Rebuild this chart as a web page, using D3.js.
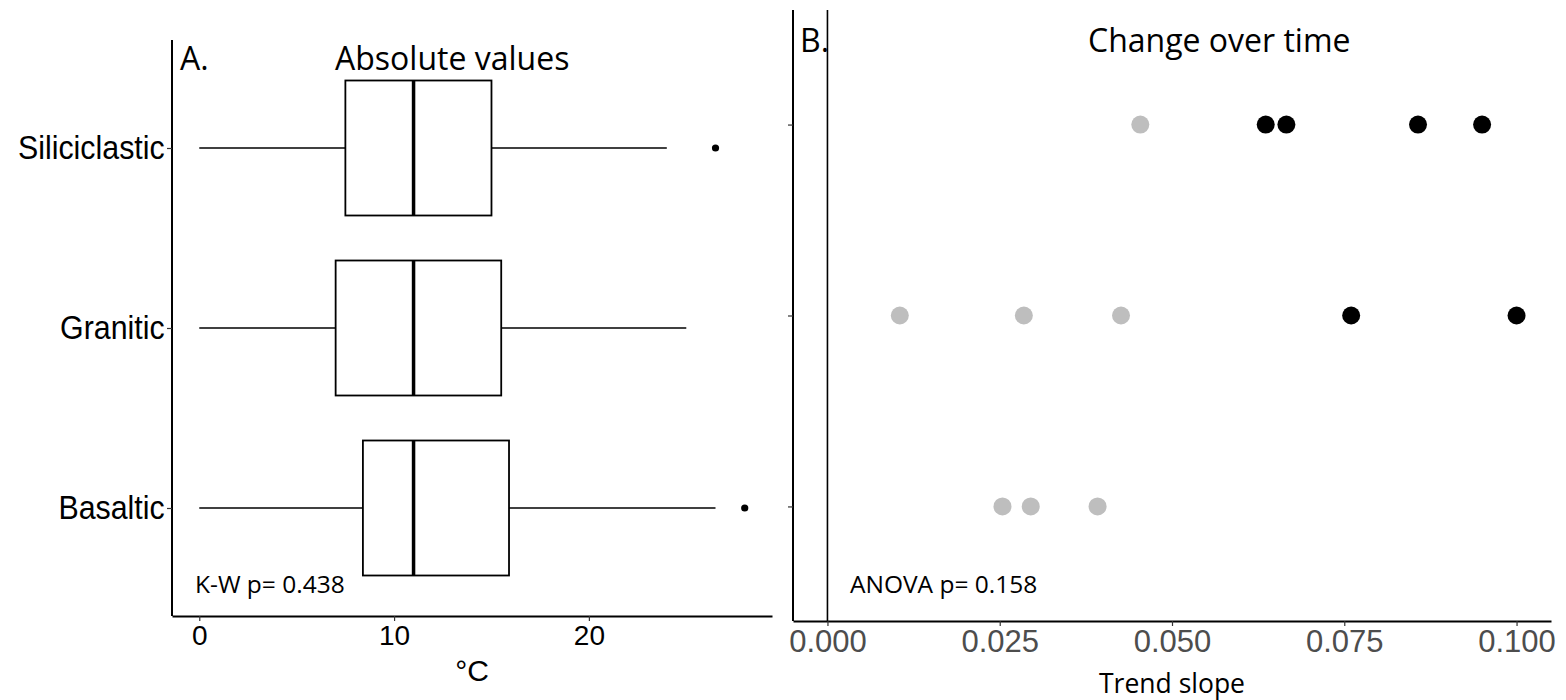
<!DOCTYPE html>
<html>
<head>
<meta charset="utf-8">
<script src="https://cdn.jsdelivr.net/npm/d3@7"></script>
<style>
  body { margin: 0; background: #fff; }
  svg { display: block; }
</style>
</head>
<body>
<div id="chart"></div>
<script>
// Categories (top to bottom)
var categories = ["Siliciclastic", "Granitic", "Basaltic"];

// Panel A: box summaries in °C
var whiskerLow = [0, 0, 0];
var q1 = [7.5, 7.0, 8.4];
var median = [11.0, 11.0, 11.0];
var q3 = [15.0, 15.5, 15.9];
var whiskerHigh = [24.0, 25.0, 26.5];
var outliers = [[26.5], [], [28.0]];
var tempTicks = [0, 10, 20];

// Panel B: trend slopes per category, and whether each slope is significant
var slopes = [
	[0.0454, 0.0636, 0.0666, 0.0857, 0.0950],
	[0.0105, 0.0285, 0.0426, 0.0760, 0.1000],
	[0.0254, 0.0295, 0.0392]
];
var significant = [
	[false, true, true, true, true],
	[false, false, false, true, true],
	[false, false, false]
];
var slopeTicks = [0, 0.025, 0.05, 0.075, 0.1];

// Graph dimensions
var width = 1566, height = 700;
var panelA = {left: 172, right: 772, top: 40, bottom: 616};
var panelB = {left: 793, right: 1551, top: 10, bottom: 621};

var svg = d3.select("#chart").append("svg")
	.attr("width", width)
	.attr("height", height);

var tickFont = "'Liberation Sans', Arial, sans-serif";
var textFont = "'Open Sans', sans-serif";

//---------------------------------------Panel A---------------------------------------
var allTemps = d3.merge([whiskerLow, whiskerHigh, d3.merge(outliers)]);
var tMin = d3.min(allTemps), tMax = d3.max(allTemps);
var tPad = (tMax - tMin) * 0.05;

var xA = d3.scaleLinear()
	.domain([tMin - tPad, tMax + tPad])
	.range([panelA.left, panelA.right]);

var yA = d3.scalePoint()
	.domain(categories)
	.range([panelA.top, panelA.bottom])
	.padding(0.6);

var boxH = yA.step() * 0.75;

var boxes = svg.append("g")
	.selectAll("g")
	.data(categories)
	.enter().append("g");

// whiskers
boxes.append("line")
	.attr("x1", function(d, i) { return xA(whiskerLow[i]); })
	.attr("x2", function(d, i) { return xA(q1[i]); })
	.attr("y1", function(d) { return yA(d); })
	.attr("y2", function(d) { return yA(d); })
	.attr("stroke", "#000").attr("stroke-width", 1.6);

boxes.append("line")
	.attr("x1", function(d, i) { return xA(q3[i]); })
	.attr("x2", function(d, i) { return xA(whiskerHigh[i]); })
	.attr("y1", function(d) { return yA(d); })
	.attr("y2", function(d) { return yA(d); })
	.attr("stroke", "#000").attr("stroke-width", 1.6);

boxes.append("rect")
	.attr("x", function(d, i) { return xA(q1[i]); })
	.attr("width", function(d, i) { return xA(q3[i]) - xA(q1[i]); })
	.attr("y", function(d) { return yA(d) - boxH / 2; })
	.attr("height", boxH)
	.attr("fill", "#fff")
	.attr("stroke", "#000").attr("stroke-width", 1.8);

boxes.append("line")
	.attr("x1", function(d, i) { return xA(median[i]); })
	.attr("x2", function(d, i) { return xA(median[i]); })
	.attr("y1", function(d) { return yA(d) - boxH / 2; })
	.attr("y2", function(d) { return yA(d) + boxH / 2; })
	.attr("stroke", "#000").attr("stroke-width", 3.5);

boxes.selectAll("circle")
	.data(function(d, i) { return outliers[i].map(function(v) { return {cat: d, v: v}; }); })
	.enter().append("circle")
	.attr("cx", function(d) { return xA(d.v); })
	.attr("cy", function(d) { return yA(d.cat); })
	.attr("r", 3.6)
	.attr("fill", "#000");

// axes
function styleAxis(g, color, size) {
	g.select(".domain").attr("stroke", "#000").attr("stroke-width", 2);
	g.selectAll(".tick line").attr("stroke", "#333").attr("stroke-width", 1.2);
	g.selectAll(".tick text")
		.attr("fill", color)
		.style("font-family", tickFont)
		.style("font-size", size + "px");
}

svg.append("g")
	.attr("transform", "translate(0," + panelA.bottom + ")")
	.call(d3.axisBottom(xA).tickValues(tempTicks).tickSize(5).tickSizeOuter(0).tickPadding(4))
	.call(styleAxis, "#000", 28);

var yAxisA = svg.append("g")
	.attr("transform", "translate(" + panelA.left + ",0)")
	.call(d3.axisLeft(yA).tickSize(5).tickSizeOuter(0).tickPadding(3))
	.call(styleAxis, "#000", 33);
yAxisA.select(".domain").attr("d", "M0," + panelA.top + "V" + panelA.bottom);
// the reference labels are a little condensed
yAxisA.selectAll(".tick text").attr("transform", "scale(0.92,1)");

svg.append("text")
	.attr("x", (panelA.left + panelA.right) / 2)
	.attr("y", 681)
	.attr("text-anchor", "middle")
	.style("font-family", tickFont)
	.style("font-size", "30px")
	.text("°C");

svg.append("text")
	.attr("x", 180).attr("y", 70)
	.style("font-family", textFont).style("font-size", "32px")
	.text("A.");

svg.append("text")
	.attr("x", 335).attr("y", 70)
	.style("font-family", textFont).style("font-size", "32px")
	.text("Absolute values");

svg.append("text")
	.attr("x", 195).attr("y", 593)
	.style("font-family", textFont).style("font-size", "24.5px")
	.text("K-W p= 0.438");

//---------------------------------------Panel B---------------------------------------
var sMax = d3.max(d3.merge(slopes)), sMin = 0;
var sPad = (sMax - sMin) * 0.05;

var xB = d3.scaleLinear()
	.domain([sMin - sPad, sMax + sPad])
	.range([panelB.left, panelB.right]);

var yB = d3.scalePoint()
	.domain(categories)
	.range([panelB.top, panelB.bottom])
	.padding(0.6);

// reference line at zero
svg.append("line")
	.attr("x1", xB(0)).attr("x2", xB(0))
	.attr("y1", panelB.top).attr("y2", panelB.bottom)
	.attr("stroke", "#000").attr("stroke-width", 1.6);

var pts = [];
categories.forEach(function(c, i) {
	slopes[i].forEach(function(v, j) { pts.push({cat: c, v: v, sig: significant[i][j]}); });
});

svg.append("g")
	.selectAll("circle")
	.data(pts)
	.enter().append("circle")
	.attr("cx", function(d) { return xB(d.v); })
	.attr("cy", function(d) { return yB(d.cat); })
	.attr("r", 9)
	.attr("fill", function(d) { return d.sig ? "#000" : "#bebebe"; });

svg.append("g")
	.attr("transform", "translate(0," + panelB.bottom + ")")
	.call(d3.axisBottom(xB).tickValues(slopeTicks).tickFormat(d3.format(".3f")).tickSize(5).tickSizeOuter(0).tickPadding(4))
	.call(styleAxis, "#4d4d4d", 31);

svg.append("g")
	.attr("transform", "translate(" + panelB.left + ",0)")
	.call(d3.axisLeft(yB).tickSize(5).tickSizeOuter(0).tickFormat(""))
	.call(styleAxis, "#000", 10)
	.select(".domain").attr("d", "M0," + panelB.top + "V" + panelB.bottom);

svg.append("text")
	.attr("x", (panelB.left + panelB.right) / 2)
	.attr("y", 693)
	.attr("text-anchor", "middle")
	.style("font-family", textFont).style("font-size", "26.5px")
	.text("Trend slope");

svg.append("text")
	.attr("x", 800).attr("y", 52)
	.style("font-family", textFont).style("font-size", "32px")
	.text("B.");

svg.append("text")
	.attr("x", 1088).attr("y", 52)
	.style("font-family", textFont).style("font-size", "32px")
	.text("Change over time");

svg.append("text")
	.attr("x", 850).attr("y", 593)
	.style("font-family", textFont).style("font-size", "24.5px")
	.text("ANOVA p= 0.158");
</script>
</body>
</html>
